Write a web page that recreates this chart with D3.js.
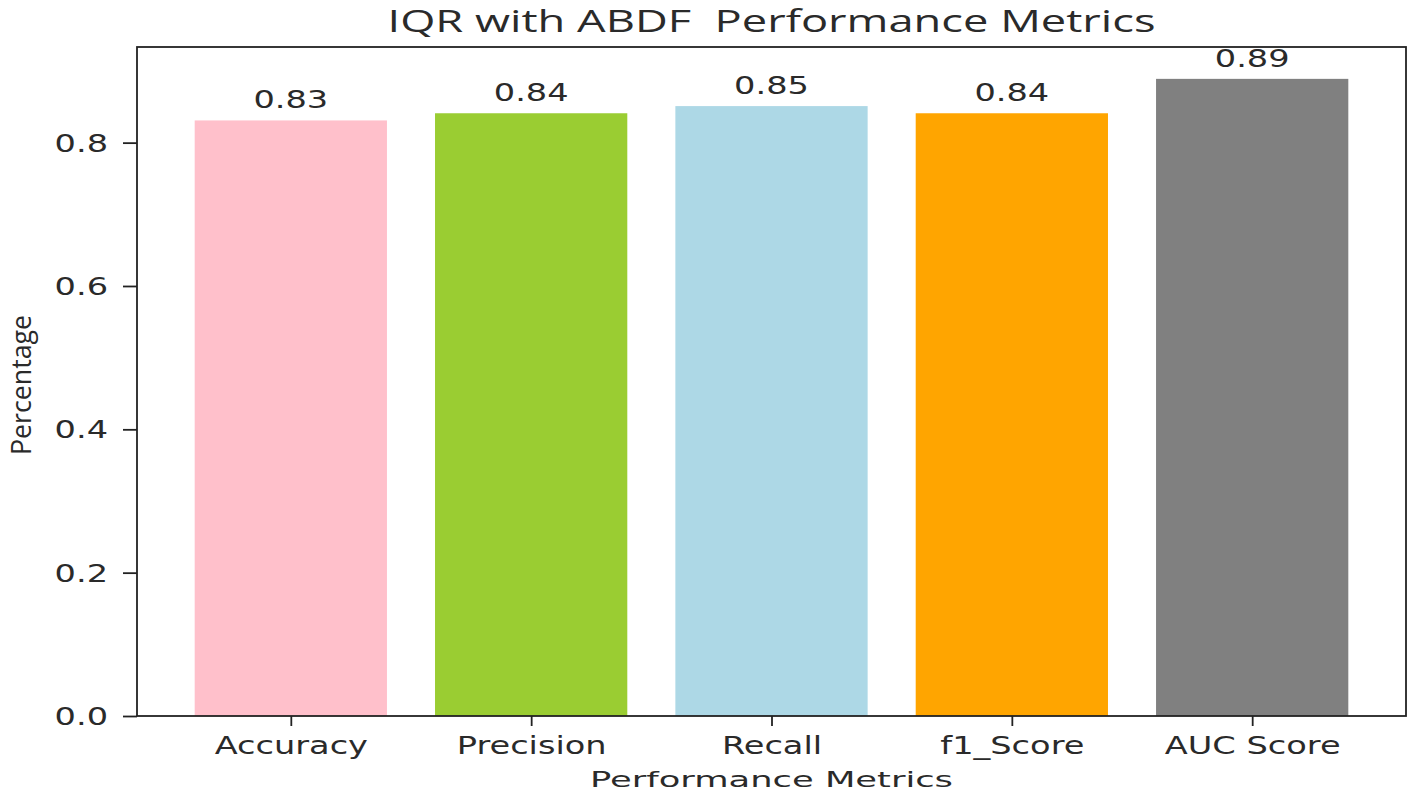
<!DOCTYPE html>
<html lang="en">
<head>
    <meta charset="utf-8">
    <title>IQR with ABDF Performance Metrics</title>
    <script src="https://d3js.org/d3.v7.min.js"></script>
<style>
    body { margin: 0; background: #fff; }
    #chart1 text { fill: #2a2a2a; }
    #chart1 .title { white-space: pre; }
</style>
</head>
<body>
  <div id="chart1"></div>

<script>

    // data
    const metrics = ["Accuracy", "Precision", "Recall", "f1_Score", "AUC Score"]
    const scores = [0.831, 0.841, 0.851, 0.841, 0.889]
    const barColors = ["#ffc0cb", "#9acd32", "#add8e6", "#ffa500", "#808080"]
    const yTicks = [0.0, 0.2, 0.4, 0.6, 0.8]

    const metricApp = {}

    // the picture is stretched sideways, so the DejaVu text is too
    metricApp.stretch = 1.4

    metricApp.buildChart = () => {

        d3.select('#chart1').html('')

        var margin = {top: 47, right: 12, bottom: 81, left: 137},
            fullWidth = 1418,
            fullHeight = 797,
            width = fullWidth - margin.left - margin.right,
            height = fullHeight - margin.top - margin.bottom;

        var root = d3.select("#chart1")
            .append("svg")
                .attr("width", fullWidth)
                .attr("height", fullHeight)

        var svg = root.append("g")
            .attr("transform", "translate(" + margin.left + "," + margin.top + ")");

        // matplotlib style limits: bar width 0.8 with 5% margins
        var n = metrics.length
        var pad = (n - 0.2) * 0.05
        var x = d3.scaleLinear()
            .domain([-0.4 - pad, n - 1 + 0.4 + pad])
            .range([0, width]);

        var y = d3.scaleLinear()
            .domain([0, d3.max(scores) * 1.05])
            .range([height, 0]);

        // bars
        svg.selectAll("rect.bar")
            .data(scores)
            .enter()
            .append("rect")
            .attr("class", "bar")
            .attr("x", function(d, i) { return x(i - 0.4); })
            .attr("width", function(d, i) { return x(i + 0.4) - x(i - 0.4); })
            .attr("y", function(d) { return y(d); })
            .attr("height", function(d) { return y(0) - y(d); })
            .style("fill", function(d, i) { return barColors[i]; })

        // value labels
        svg.selectAll("text.val")
            .data(scores)
            .enter()
            .append("text")
            .attr("class", "val")
            .attr("text-anchor", "middle")
            .attr("font-family", "DejaVu Sans")
            .attr("font-size", 24)
            .attr("transform", function(d, i) {
                return "translate(" + x(i) + "," + (y(d) - 12) + ") scale(" + metricApp.stretch + ",1)";
            })
            .text(function(d) { return d3.format(".2f")(d); })

        // frame
        svg.append("rect")
            .attr("x", 0)
            .attr("y", 0)
            .attr("width", width)
            .attr("height", height)
            .style("fill", "none")
            .style("stroke", "#222")
            .style("stroke-width", 1.8)

        // y axis
        var yAxis = svg.append("g")
            .call(d3.axisLeft(y)
                .tickValues(yTicks)
                .tickSize(14)
                .tickPadding(0)
                .tickFormat(d3.format(".1f")))
        yAxis.select(".domain").remove()
        yAxis.selectAll(".tick line").attr("stroke", "#222").attr("stroke-width", 1.8)
        yAxis.selectAll(".tick text")
            .attr("font-family", "DejaVu Sans")
            .attr("font-size", 24)
            .attr("x", null)
            .attr("dy", "0.36em")
            .attr("transform", "translate(-29,0) scale(" + metricApp.stretch + ",1)")

        // x axis
        var xAxis = svg.append("g")
            .attr("transform", "translate(0," + height + ")")
            .call(d3.axisBottom(x)
                .tickValues(d3.range(n))
                .tickSize(10)
                .tickPadding(0)
                .tickFormat(function(i) { return metrics[i]; }))
        xAxis.select(".domain").remove()
        xAxis.selectAll(".tick line").attr("stroke", "#222").attr("stroke-width", 1.8)
        xAxis.selectAll(".tick text")
            .attr("font-family", "DejaVu Sans")
            .attr("font-size", 24)
            .attr("y", null)
            .attr("dy", null)
            .attr("transform", "translate(0,38) scale(" + metricApp.stretch + ",1)")

        // title
        root.append("text")
            .attr("class", "title")
            .attr("x", margin.left + width / 2)
            .attr("y", 32)
            .attr("text-anchor", "middle")
            .attr("font-family", "Open Sans")
            .attr("font-size", 31)
            .attr("textLength", 768)
            .attr("lengthAdjust", "spacingAndGlyphs")
            .text("IQR with ABDF  Performance Metrics")

        // x label
        root.append("text")
            .attr("x", margin.left + width / 2)
            .attr("y", 787)
            .attr("text-anchor", "middle")
            .attr("font-family", "DejaVu Sans")
            .attr("font-size", 22)
            .attr("textLength", 363)
            .attr("lengthAdjust", "spacingAndGlyphs")
            .text("Performance Metrics")

        // y label
        root.append("text")
            .attr("transform", "translate(31,385) rotate(-90)")
            .attr("text-anchor", "middle")
            .attr("font-family", "Open Sans")
            .attr("font-size", 27)
            .attr("textLength", 140)
            .attr("lengthAdjust", "spacingAndGlyphs")
            .text("Percentage")
    }

    metricApp.init = () => {
        metricApp.buildChart()
    }
    metricApp.init()

</script>
</body>
</html>
